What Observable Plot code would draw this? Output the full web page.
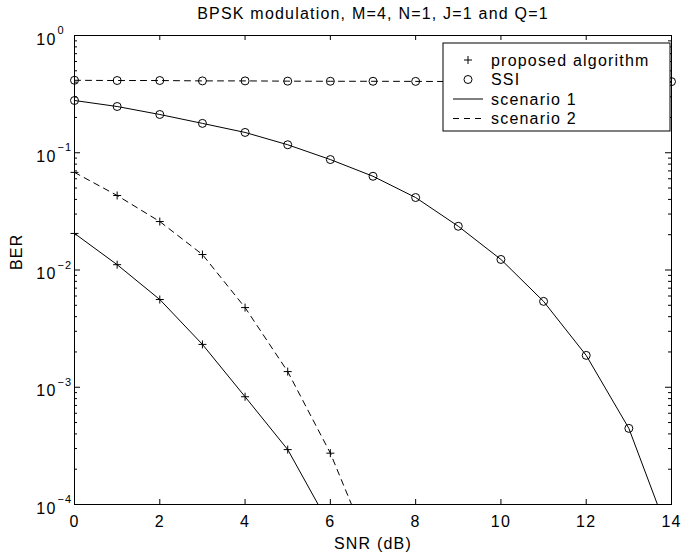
<!DOCTYPE html>
<html><head>
<meta charset="utf-8">
<script src="https://cdn.jsdelivr.net/npm/d3@7"></script>
<script src="https://cdn.jsdelivr.net/npm/@observablehq/plot@0.6"></script>
<style>
body{margin:0;background:#fff;font-family:"Liberation Sans",Arial,Helvetica,sans-serif}
#wrap{position:relative;width:700px;height:553px}
svg text{letter-spacing:1.2px}
</style>
</head><body><div id="wrap"></div>
<script>
// ---- data ----
const titleText = "BPSK modulation, M=4, N=1, J=1 and Q=1";
const xLabel = "SNR (dB)";
const yLabel = "BER";
const snr = [0,1,2,3,4,5,6,7,8,9,10,11,12,13,14];
const ssiScenario2 = [0.415,0.413,0.413,0.41,0.41,0.408,0.407,0.407,0.406,0.405,0.405,0.405,0.405,0.405,0.404];
const ssiScenario1 = [0.279,0.248,0.212,0.178,0.149,0.117,0.0875,0.063,0.0415,0.0236,0.0123,0.0054,0.00187,0.000446,0.000048];
const propScenario1 = [0.0205,0.0111,0.0056,0.00232,0.00083,0.000294,0.000065];
const propScenario2 = [0.068,0.0432,0.0259,0.01355,0.00478,0.00136,0.000274,0.000036];
const xTicks = [0,2,4,6,8,10,12,14];
const yTicks = [1e-4,1e-3,1e-2,1e-1,1];
const yExponents = ["−4","−3","−2","−1","0"];
const legendLabels = ["proposed algorithm","SSI","scenario 1","scenario 2"];

// minor log ticks
const yMinor = [];
for (let d = -4; d < 0; d++) for (let k = 2; k <= 9; k++) yMinor.push(k * Math.pow(10, d));

const toRows = (vals) => vals.map((v, i) => ({x: snr[i], y: v}));
const s2 = toRows(ssiScenario2), s1 = toRows(ssiScenario1);
const p1 = toRows(propScenario1), p2 = toRows(propScenario2);
const vis = (rows) => rows.filter(d => d.y >= 1e-4 && d.y <= 1);

const W = 700, H = 553, mL = 74, mR = 29, mT = 35, mB = 49;
const fw = W - mL - mR, fh = H - mT - mB;
const FS = 16;

const plusSymbol = {
  draw(ctx, size) {
    const r = Math.sqrt(size / Math.PI);
    ctx.moveTo(-r, 0); ctx.lineTo(r, 0);
    ctx.moveTo(0, -r); ctx.lineTo(0, r);
  }
};
const dash = "6,5";

const chart = Plot.plot({
  width: W, height: H,
  marginLeft: mL, marginRight: mR, marginTop: mT, marginBottom: mB,
  x: {domain: [0, 14], axis: null},
  y: {type: "log", domain: [1e-4, 1], axis: null},
  style: {fontFamily: '"Liberation Sans", Arial, Helvetica, sans-serif', fontSize: FS + "px", background: "white", color: "black", overflow: "visible"},
  marks: [
    Plot.line(s2, {x: "x", y: "y", stroke: "black", strokeWidth: 1, strokeDasharray: dash, clip: true}),
    Plot.line(s1, {x: "x", y: "y", stroke: "black", strokeWidth: 1, clip: true}),
    Plot.line(p1, {x: "x", y: "y", stroke: "black", strokeWidth: 1, clip: true}),
    Plot.line(p2, {x: "x", y: "y", stroke: "black", strokeWidth: 1, strokeDasharray: dash, clip: true}),
    Plot.dot(vis(s2), {x: "x", y: "y", r: 4, stroke: "black", strokeWidth: 1, fill: "none"}),
    Plot.dot(vis(s1), {x: "x", y: "y", r: 4, stroke: "black", strokeWidth: 1, fill: "none"}),
    Plot.dot(vis(p1), {x: "x", y: "y", r: 4, symbol: plusSymbol, stroke: "black", strokeWidth: 1, fill: "none"}),
    Plot.dot(vis(p2), {x: "x", y: "y", r: 4, symbol: plusSymbol, stroke: "black", strokeWidth: 1, fill: "none"}),
    Plot.frame({stroke: "black", strokeWidth: 1}),
    Plot.ruleX(xTicks, {x: d => d, insetTop: fh - 5, stroke: "black"}),
    Plot.ruleX(xTicks, {x: d => d, insetBottom: fh - 5, stroke: "black"}),
    Plot.ruleY(yTicks, {y: d => d, insetRight: fw - 6, stroke: "black"}),
    Plot.ruleY(yTicks, {y: d => d, insetLeft: fw - 6, stroke: "black"}),
    Plot.ruleY(yMinor, {y: d => d, insetRight: fw - 3, stroke: "black"}),
    Plot.ruleY(yMinor, {y: d => d, insetLeft: fw - 3, stroke: "black"}),
    Plot.text(xTicks, {x: d => d, frameAnchor: "bottom", lineAnchor: "middle", dy: 17, text: d => String(d), fontSize: FS}),
    Plot.text(yTicks, {y: d => d, frameAnchor: "left", dx: -18, dy: 4, textAnchor: "end", text: () => "10", fontSize: FS}),
    Plot.text(yTicks, {y: d => d, frameAnchor: "left", dx: -17, dy: -5, textAnchor: "start", text: (d, i) => yExponents[i], fontSize: 11}),
    Plot.text([xLabel], {frameAnchor: "bottom", lineAnchor: "middle", dy: 39, text: d => d, fontSize: FS}),
    Plot.text([yLabel], {frameAnchor: "left", dx: -58, rotate: -90, text: d => d, fontSize: FS}),
    Plot.text([titleText], {frameAnchor: "top", lineAnchor: "middle", dy: -22, text: d => d, fontSize: FS})
  ]
});

// legend (drawn on top of the data, as in the reference)
const svg = d3.select(chart);
const lg = svg.append("g").attr("transform", "translate(443,43)");
lg.append("rect").attr("width", 227).attr("height", 88).attr("fill", "white").attr("stroke", "black");
const rowsY = [17, 36.5, 56, 75.5];
lg.append("path").attr("d", `M${25-4},${rowsY[0]}h8M25,${rowsY[0]-4}v8`).attr("stroke", "black").attr("fill", "none");
lg.append("circle").attr("cx", 25).attr("cy", rowsY[1]).attr("r", 4).attr("stroke", "black").attr("fill", "none");
lg.append("line").attr("x1", 10).attr("x2", 40).attr("y1", rowsY[2]).attr("y2", rowsY[2]).attr("stroke", "black");
lg.append("line").attr("x1", 10).attr("x2", 40).attr("y1", rowsY[3]).attr("y2", rowsY[3]).attr("stroke", "black").attr("stroke-dasharray", dash);
legendLabels.forEach((t, i) => {
  lg.append("text").attr("x", 48).attr("y", rowsY[i]).attr("dy", "0.35em")
    .attr("text-anchor", "start").attr("font-size", FS).attr("fill", "black").text(t);
});

document.getElementById("wrap").appendChild(chart);
</script>
</body></html>
